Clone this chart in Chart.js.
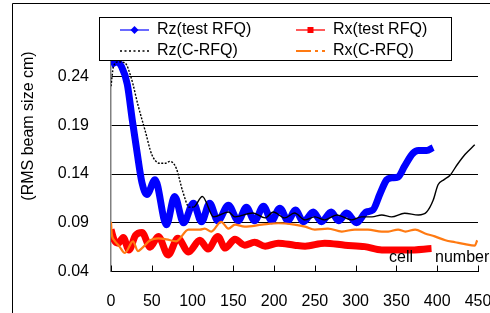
<!DOCTYPE html>
<html>
<head>
<meta charset="utf-8">
<script src="https://cdn.jsdelivr.net/npm/chart.js@4.4.0/dist/chart.umd.min.js"></script>
<style>
  html, body { margin: 0; padding: 0; background: #fff; }
</style>
</head>
<body>
<canvas id="rfqChart" width="490" height="313"></canvas>
<script>
// colours used across the chart
const COLORS = {
    blue: "#0000ff",
    blueLegend: "#6a6aff",
    red: "#ff0000",
    redLegend: "#ff5a5a",
    black: "#000000",
    orange: "#ff7a12",
    grid: "#000000",
    axisY: "#808080"
};
const FONT = "'Liberation Sans', Arial, sans-serif";

// axis ticks
const xTicks = [0, 50, 100, 150, 200, 250, 300, 350, 400, 450];
const yTicks = [0.04, 0.09, 0.14, 0.19, 0.24];

// Rz (test RFQ)
const rzTestCells = [0, 7, 13, 20, 26, 32, 38, 44, 54, 68, 78, 89, 101, 111, 121, 131, 144, 156, 166, 176,
    187, 197, 207, 217, 226, 236, 248, 258, 270, 279, 289, 301, 313, 321, 330, 338, 344, 352, 360, 370, 377, 387, 395];
const rzTestSize = [0.252, 0.255, 0.250, 0.232, 0.196, 0.162, 0.131, 0.119, 0.134, 0.088, 0.117, 0.090, 0.110, 0.091, 0.110, 0.092, 0.108, 0.092, 0.106, 0.092,
    0.107, 0.092, 0.105, 0.092, 0.103, 0.091, 0.101, 0.091, 0.101, 0.092, 0.100, 0.090, 0.101, 0.103, 0.120, 0.134, 0.136, 0.137, 0.148, 0.161, 0.164, 0.164, 0.167];

// Rx (test RFQ)
const rxTestCells = [0, 4, 9, 15, 22, 30, 38, 48, 58, 70, 82, 95, 109, 119, 131, 140, 152, 164, 176, 189,
    205, 225, 238, 262, 287, 311, 332, 364, 393];
const rxTestSize = [0.083, 0.072, 0.069, 0.075, 0.062, 0.077, 0.080, 0.065, 0.076, 0.057, 0.074, 0.060, 0.072, 0.063, 0.076, 0.064, 0.073, 0.067, 0.070, 0.066,
    0.069, 0.067, 0.066, 0.069, 0.067, 0.0655, 0.062, 0.062, 0.0635];

// Rz (C-RFQ)
const rzCCells = [0, 3, 9, 17, 25, 33, 42, 50, 60, 67, 72, 80, 88, 96, 101, 112, 126, 144, 152, 174,
    189, 199, 213, 225, 238, 250, 262, 277, 295, 307, 320, 332, 344, 360, 377, 387, 395, 401, 408, 416, 424, 434, 446];
const rzCSize = [0.230, 0.250, 0.255, 0.254, 0.238, 0.211, 0.184, 0.160, 0.151, 0.151, 0.153, 0.146, 0.122, 0.106, 0.106, 0.117, 0.096, 0.101, 0.096, 0.100,
    0.095, 0.101, 0.095, 0.100, 0.093, 0.096, 0.093, 0.098, 0.093, 0.096, 0.096, 0.098, 0.096, 0.0998, 0.098, 0.101, 0.113, 0.129, 0.134, 0.139, 0.149, 0.160, 0.170];

// Rx (C-RFQ)
const rxCCells = [0, 1, 4, 10, 17, 27, 33, 38, 48, 58, 68, 80, 95, 109, 115, 123, 135, 144, 152, 164,
    185, 205, 225, 238, 250, 266, 283, 299, 315, 332, 340, 352, 361, 373, 385, 397, 410, 422, 434, 446, 449];
const rxCSize = [0.091, 0.078, 0.072, 0.066, 0.059, 0.071, 0.061, 0.064, 0.072, 0.074, 0.073, 0.071, 0.083, 0.083, 0.084, 0.081, 0.091, 0.084, 0.088, 0.086,
    0.088, 0.0895, 0.088, 0.086, 0.083, 0.084, 0.081, 0.083, 0.083, 0.081, 0.081, 0.083, 0.081, 0.083, 0.079, 0.076, 0.072, 0.070, 0.068, 0.0665, 0.072];

const seriesLabels = ["Rz(test RFQ)", "Rx(test RFQ)", "Rz(C-RFQ)", "Rx(C-RFQ)"];

function toPoints(xs, ys) {
    return xs.map((x, i) => ({ x: x, y: ys[i] }));
}

// frame, inside ticks, axis title, note and legend
const decorations = {
    id: 'decorations',
    beforeDraw(chart) {
        const ctx = chart.ctx;
        ctx.save();
        ctx.fillStyle = "#fff";
        ctx.fillRect(0, 0, chart.width, chart.height);
        ctx.strokeStyle = "#000";
        ctx.lineWidth = 1;
        ctx.beginPath();
        ctx.moveTo(12.5, chart.height);
        ctx.lineTo(12.5, 3.5);
        ctx.lineTo(chart.width, 3.5);
        ctx.stroke();
        ctx.restore();
    },
    afterDraw(chart) {
        const ctx = chart.ctx;
        const area = chart.chartArea;
        const xs = chart.scales.x;
        ctx.save();

        // inside tick marks on the x axis
        ctx.strokeStyle = "#000";
        ctx.lineWidth = 1;
        ctx.beginPath();
        xTicks.forEach(v => {
            const px = Math.round(xs.getPixelForValue(v)) + 0.5;
            ctx.moveTo(px, area.bottom);
            ctx.lineTo(px, area.bottom - 6);
        });
        ctx.stroke();

        // y axis title
        ctx.fillStyle = "#000";
        ctx.font = "16px " + FONT;
        ctx.textAlign = "center";
        ctx.textBaseline = "middle";
        ctx.save();
        ctx.translate(29, 126);
        ctx.rotate(-Math.PI / 2);
        ctx.fillText("(RMS beam size cm)", 0, 0);
        ctx.restore();

        // x axis note inside the plot
        ctx.textAlign = "left";
        ctx.textBaseline = "alphabetic";
        ctx.fillText("cell", 389, 262);
        ctx.fillText("number", 435, 262);

        // legend box
        ctx.fillStyle = "#fff";
        ctx.fillRect(99.5, 17.5, 352, 43);
        ctx.strokeStyle = "#000";
        ctx.strokeRect(99.5, 17.5, 352, 43);

        const rows = [30, 51];
        const cols = [120, 296];
        const textX = [157, 333];
        const sampleW = 29;

        // Rz(test RFQ)
        ctx.strokeStyle = COLORS.blueLegend;
        ctx.lineWidth = 2;
        ctx.beginPath();
        ctx.moveTo(cols[0], rows[0]);
        ctx.lineTo(cols[0] + sampleW, rows[0]);
        ctx.stroke();
        ctx.fillStyle = COLORS.blue;
        ctx.beginPath();
        const mx = cols[0] + sampleW / 2;
        ctx.moveTo(mx, rows[0] - 4);
        ctx.lineTo(mx + 4, rows[0]);
        ctx.lineTo(mx, rows[0] + 4);
        ctx.lineTo(mx - 4, rows[0]);
        ctx.closePath();
        ctx.fill();

        // Rx(test RFQ)
        ctx.strokeStyle = COLORS.redLegend;
        ctx.beginPath();
        ctx.moveTo(cols[1], rows[0]);
        ctx.lineTo(cols[1] + sampleW, rows[0]);
        ctx.stroke();
        ctx.fillStyle = COLORS.red;
        ctx.fillRect(cols[1] + sampleW / 2 - 3, rows[0] - 3, 6, 6);

        // Rz(C-RFQ)
        ctx.strokeStyle = COLORS.black;
        ctx.lineWidth = 1.5;
        ctx.setLineDash([2, 2.5]);
        ctx.beginPath();
        ctx.moveTo(cols[0], rows[1]);
        ctx.lineTo(cols[0] + sampleW, rows[1]);
        ctx.stroke();

        // Rx(C-RFQ)
        ctx.strokeStyle = COLORS.orange;
        ctx.lineWidth = 2;
        ctx.setLineDash([15, 4, 3, 4]);
        ctx.beginPath();
        ctx.moveTo(cols[1], rows[1]);
        ctx.lineTo(cols[1] + sampleW, rows[1]);
        ctx.stroke();
        ctx.setLineDash([]);

        ctx.fillStyle = "#000";
        ctx.font = "16px " + FONT;
        ctx.textBaseline = "middle";
        ctx.fillText(seriesLabels[0], textX[0], rows[0]);
        ctx.fillText(seriesLabels[1], textX[1], rows[0]);
        ctx.fillText(seriesLabels[2], textX[0], rows[1]);
        ctx.fillText(seriesLabels[3], textX[1], rows[1]);

        ctx.restore();
    }
};

document.addEventListener("DOMContentLoaded", function () {
    const ctx = document.getElementById("rfqChart");

    new Chart(ctx, {
        type: 'line',
        data: {
            datasets: [{
                label: seriesLabels[0],
                data: toPoints(rzTestCells, rzTestSize),
                borderColor: COLORS.blue,
                borderWidth: 7,
                pointRadius: 0,
                cubicInterpolationMode: 'monotone',
                order: 3
            }, {
                label: seriesLabels[1],
                data: toPoints(rxTestCells, rxTestSize),
                borderColor: COLORS.red,
                borderWidth: 7,
                pointRadius: 0,
                cubicInterpolationMode: 'monotone',
                order: 4
            }, {
                label: seriesLabels[2],
                data: toPoints(rzCCells, rzCSize),
                borderColor: COLORS.black,
                borderWidth: 1.4,
                // dotted at the start, the dots run together further on
                segment: {
                    borderDash: c => (c.p0.parsed.x < 100 ? [2, 1.5] : [])
                },
                pointRadius: 0,
                cubicInterpolationMode: 'monotone',
                order: 1
            }, {
                label: seriesLabels[3],
                data: toPoints(rxCCells, rxCSize),
                borderColor: COLORS.orange,
                borderWidth: 2.2,
                pointRadius: 0,
                cubicInterpolationMode: 'monotone',
                order: 2
            }]
        },
        options: {
            responsive: false,
            animation: false,
            devicePixelRatio: 1,
            layout: {
                padding: { left: 0, right: 12, top: 57, bottom: 0 }
            },
            scales: {
                x: {
                    type: 'linear',
                    min: 0,
                    max: 450,
                    afterBuildTicks: axis => { axis.ticks = xTicks.map(v => ({ value: v })); },
                    afterFit: axis => {
                        axis.height = 41.5;
                        axis.paddingLeft = 0;
                        axis.paddingRight = 0;
                    },
                    grid: { drawOnChartArea: false, drawTicks: false },
                    border: { color: "#000", width: 1 },
                    ticks: {
                        padding: 20,
                        color: "#000",
                        font: { family: FONT, size: 16 },
                        maxRotation: 0,
                        callback: v => String(v)
                    }
                },
                y: {
                    min: 0.04,
                    max: 0.26,
                    afterBuildTicks: axis => { axis.ticks = yTicks.map(v => ({ value: v })); },
                    afterFit: axis => {
                        axis.width = 111;
                        axis.paddingTop = 0;
                        axis.paddingBottom = 0;
                    },
                    grid: { color: COLORS.grid, lineWidth: 1, drawTicks: false },
                    border: { color: COLORS.axisY, width: 1.5 },
                    ticks: {
                        padding: 22,
                        color: "#000",
                        font: { family: FONT, size: 16 },
                        callback: v => v.toFixed(2)
                    }
                }
            },
            plugins: {
                legend: { display: false },
                tooltip: { enabled: false }
            }
        },
        plugins: [decorations]
    });
});
</script>
</body>
</html>
